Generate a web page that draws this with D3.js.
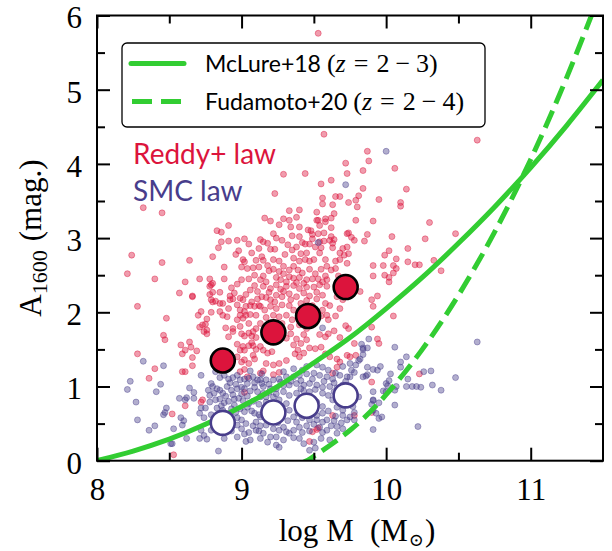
<!DOCTYPE html>
<html>
<head>
<meta charset="utf-8">
<script src="https://cdn.jsdelivr.net/npm/d3@7"></script>
<style>
  body { margin: 0; background: #fff; }
  .serif { font-family: "Liberation Serif", "DejaVu Serif", serif; }
  .sans { font-family: "Lato", "DejaVu Sans", sans-serif; }
</style>
</head>
<body>
<svg id="chart" width="612" height="551"></svg>
<script>
// Individual galaxies, [log M, A1600], Reddy+ attenuation law
const reddyGalaxies = [
  [9.29,3.86],[9.44,3.87],[9.23,3.60],[8.32,3.41],[8.45,3.34],[9.33,3.37],[9.40,3.38],[9.16,3.27],[9.20,3.23],[9.29,3.26],
  [9.33,3.24],[9.38,3.28],[8.91,3.17],[8.83,3.10],[8.86,3.08],[8.24,2.77],[8.45,2.67],[8.64,2.70],[8.80,2.75],[8.21,2.52],
  [9.53,5.76],[9.57,4.40],[10.63,4.32],[9.87,4.17],[9.88,4.04],[9.72,4.01],[9.73,3.87],[9.84,3.91],[10.06,3.94],[9.62,3.78],
  [9.55,3.73],[9.84,3.67],[10.14,3.66],[9.81,3.57],[9.79,3.51],[9.65,3.56],[9.68,3.56],[9.56,3.54],[9.56,3.46],[9.74,3.48],
  [9.95,3.52],[10.10,3.48],[10.10,3.43],[9.63,3.45],[9.80,3.42],[9.52,3.35],[9.64,3.33],[9.53,3.24],[9.58,3.26],[9.62,3.27],
  [9.79,3.24],[9.91,3.23],[10.30,3.21],[9.46,3.11],[9.53,3.06],[9.74,3.07],[9.76,3.01],[9.78,2.97],[9.87,3.05],[9.85,2.96],
  [10.04,3.02],[10.27,2.99],[10.48,3.06],[9.64,2.98],[9.49,2.99],[9.47,2.92],[9.54,2.95],[9.99,2.77],[10.02,2.83],[10.15,2.86],
  [10.07,2.72],[10.15,2.68],[10.20,2.64],[10.23,2.64],[10.33,2.70],[10.38,2.56],[9.91,2.63],[9.98,2.63],[10.05,2.63],
  [10.02,2.47],[10.02,2.41],[9.99,2.50],[9.91,2.49],[9.82,2.28],[9.94,2.22],[9.90,2.17],[9.91,2.08],[10.05,1.95],[9.90,1.80],
  [10.07,2.59],[10.05,2.53],[9.94,1.64],[9.68,1.66],[9.72,1.82],[9.74,1.78],[9.79,1.42],[9.73,1.42],[10.23,1.17],[9.90,1.06],
  [9.63,1.18],[9.55,1.53],[9.78,0.61],[9.90,0.65],[9.53,0.44],[9.49,0.39],[9.95,1.58],[9.78,1.58],[9.75,1.40],
  [8.86,2.95],[8.91,2.96],[8.97,2.97],[9.02,2.99],[9.05,2.92],[8.84,2.87],[8.98,2.83],[8.96,2.78],[9.01,2.71],[9.02,2.68],
  [9.00,2.61],[9.04,2.59],[9.08,2.60],[9.12,2.61],[8.88,2.61],[8.88,2.45],[9.00,2.44],[8.78,2.45],[8.80,2.39],[8.78,2.35],
  [8.61,2.41],[8.57,2.26],[8.66,2.21],[8.85,2.27],[8.93,2.33],[8.97,2.38],[9.06,2.30],[9.09,2.36],[8.95,2.26],[8.99,2.19],
  [8.94,2.18],[9.01,2.17],[8.79,2.17],[8.80,2.27],[8.82,2.15],[8.85,2.12],[8.87,2.12],[8.92,2.17],[8.91,2.05],[8.72,2.01],
  [8.79,2.00],[8.85,2.01],[8.87,1.96],[8.90,1.94],[9.03,2.08],[9.06,2.09],[9.09,2.08],[9.12,2.09],[8.99,2.03],[9.02,2.01],
  [8.99,1.96],[8.97,1.90],[9.01,1.92],[9.03,1.96],[9.06,1.97],[9.10,1.96],[8.76,1.91],[8.75,1.84],[8.71,1.80],[8.89,1.79],
  [8.94,1.78],[8.99,1.81],
  [9.26,3.18],[9.34,3.15],[9.40,3.15],[9.40,3.02],[9.35,3.03],[9.22,3.06],[9.24,3.00],[9.13,2.98],[9.15,2.95],[9.20,2.85],
  [9.23,2.85],[9.32,2.91],[9.35,2.84],[9.38,2.88],[9.42,2.94],[9.44,2.92],[9.14,2.75],[9.15,2.70],[9.22,2.71],[9.26,2.69],
  [9.29,2.62],[9.22,2.58],[9.19,2.56],[9.36,2.73],[9.40,2.69],[9.44,2.71],[9.36,2.62],[9.39,2.57],[9.42,2.53],
  [9.45,2.80],[9.54,2.80],[9.55,2.87],[9.61,2.97],[9.63,2.93],[9.63,2.87],[9.70,2.86],[9.73,2.88],[9.68,2.80],[9.71,2.77],
  [9.74,2.79],[9.47,2.69],[9.50,2.71],[9.47,2.58],[9.58,2.71],[9.65,2.69],[9.59,2.62],[9.62,2.57],[9.65,2.59],[9.68,2.71],
  [9.73,2.66],[9.48,3.10],[9.49,3.05],[9.57,3.07],[9.62,3.02],[9.73,3.06],[9.52,3.24],[9.58,3.22],[9.54,3.17],[9.62,3.14],
  [9.13,2.44],[9.15,2.49],[9.17,2.41],[9.24,2.47],[9.27,2.44],[9.31,2.41],[9.33,2.48],[9.36,2.46],[9.40,2.47],[9.45,2.44],
  [9.49,2.45],[9.53,2.45],[9.56,2.41],[9.59,2.44],[9.15,2.35],[9.20,2.32],[9.24,2.37],[9.27,2.31],[9.31,2.35],[9.36,2.36],
  [9.40,2.32],[9.45,2.34],[9.50,2.34],[9.54,2.37],[9.59,2.35],[9.14,2.21],[9.17,2.20],[9.20,2.17],[9.24,2.23],[9.28,2.21],
  [9.33,2.25],[9.38,2.21],[9.43,2.26],[9.47,2.22],[9.52,2.18],[9.56,2.23],[9.13,2.08],[9.16,2.03],[9.20,2.08],[9.24,2.05],
  [9.28,2.10],[9.33,2.09],[9.36,2.03],[9.31,1.96],[9.26,1.94],[9.22,1.96],[9.17,1.93],[9.56,2.03],[9.61,2.09],[9.59,1.96],
  [9.60,1.90],[9.58,2.12],[9.67,2.49],[9.70,2.17],[9.66,2.21],
  [8.74,1.74],[8.76,1.71],[8.91,1.67],[8.94,1.74],[9.00,1.71],[9.02,1.68],[9.05,1.72],[9.08,1.74],[9.07,1.68],[9.10,1.66],
  [8.58,1.56],[8.64,1.60],[8.65,1.53],[8.61,1.49],[8.69,1.48],[8.97,1.57],[9.01,1.54],[8.99,1.49],[9.02,1.49],[9.05,1.55],
  [9.08,1.55],[9.10,1.50],[9.07,1.59],[8.66,1.39],[8.66,1.28],[8.61,1.20],[8.97,1.40],[9.00,1.33],[9.02,1.36],[9.05,1.31],
  [9.09,1.37],[9.08,1.42],[9.02,1.23],[8.99,1.20],[9.04,1.13],[8.73,0.82],[8.72,0.79],[8.52,0.63],[9.02,0.92],
  [9.34,1.71],[9.38,1.64],[9.43,1.70],[9.45,1.63],[9.41,1.58],[9.36,1.56],[9.47,1.52],[9.39,1.49],[9.43,1.45],[9.37,1.44],
  [9.40,1.40],[9.13,1.54],[9.15,1.49],[9.18,1.45],[9.21,1.47],[9.26,1.63],[9.31,1.65],[9.54,1.70],[9.58,1.67],[9.58,1.44],
  [9.61,1.40],[9.66,1.37],[9.68,1.33],[9.66,1.26],[9.51,1.51],[9.17,1.31],[9.22,1.29],[9.26,1.31],[9.31,1.35],[9.13,1.18],
  [9.15,1.21],[9.22,1.16],[9.26,1.19],[9.63,0.61],[9.52,0.42],[9.47,0.26],[9.60,1.71],
  [8.28,2.08],[8.48,1.92],[8.46,1.69],[8.47,1.63],[8.59,1.44],[8.59,1.20],[8.28,1.44],[8.40,1.24],[8.36,1.11],[8.53,0.08],
  [8.61,0.74],[8.70,1.96],[8.73,1.83],[8.76,1.76],[8.71,2.45],[8.79,2.37],[8.78,2.24],[8.80,2.14],[8.92,2.22],[8.97,2.10],
  [9.03,2.24],[8.40,2.45],[8.66,2.22],
  [9.05,2.45],[9.09,2.50],[9.11,2.28],[9.07,2.14],[9.11,2.18],[9.19,2.27],[9.23,2.14],[9.29,2.28],[9.34,2.17],[9.41,2.12],
  [9.45,2.16],[9.49,2.09],[9.52,2.27],[9.43,2.39],[9.38,2.40],[9.29,2.52],[9.33,2.57],[9.26,2.55],[9.18,2.63],[9.10,2.70],
  [9.07,2.80],[9.12,2.86],[9.18,2.93],[9.28,2.97],[9.30,2.78],[9.41,2.79],[9.51,2.52],[9.55,2.58],[9.58,2.49],[9.51,2.88],
  [9.57,2.96],[9.28,1.85],[9.35,1.90],[9.40,1.83],[9.45,1.78],[9.20,1.80],[9.13,1.85],[9.05,1.85],[9.50,1.85],[9.55,1.95],
  [9.65,1.95],[9.68,2.05],[9.64,1.75],[9.34,1.80],[9.10,1.78]
];

// Individual galaxies, [log M, A1600], SMC attenuation law
const smcGalaxies = [
  [10.00,4.17],[9.72,3.72],[9.53,2.94],[9.56,1.79],
  [10.63,1.60],[10.06,1.53],[10.14,1.40],[10.10,1.33],[10.10,1.26],[10.26,1.20],[10.31,1.21],[10.48,1.12],[10.32,1.02],[10.38,0.95],
  [10.14,1.00],[10.18,1.00],[10.21,1.00],[10.24,0.99],[10.03,1.17],[10.00,1.04],[10.01,1.01],[10.06,0.75],[9.97,0.59],[9.91,0.42],
  [10.22,0.46],[9.91,0.93],[9.91,0.82],[9.87,1.16],[9.91,1.23],[9.96,1.27],[9.94,1.22],[9.82,1.37],[9.84,1.43],[9.84,1.52],
  [9.87,1.52],[9.83,1.57],[9.88,1.64],[9.84,1.50],[9.81,1.35],[9.79,1.29],[9.75,1.31],[9.76,1.22],[9.78,1.19],[9.75,1.13],
  [9.87,1.26],[10.02,1.08],[9.86,1.14],[9.84,1.13],[10.15,1.10],[9.98,0.94],[10.00,0.93],[10.06,0.95],[10.07,1.00],[9.81,0.86],
  [9.91,0.81],[9.90,0.76],[9.95,0.78],[9.91,0.68],[9.93,0.64],[9.95,0.57],[9.78,0.65],[9.75,0.59],[9.78,0.55],[9.77,0.73],
  [9.17,1.09],[9.22,1.09],[9.26,1.10],[9.31,1.13],[9.36,1.13],[9.40,1.15],[9.45,1.17],[9.50,1.18],[9.54,1.15],[9.59,1.13],
  [9.63,1.10],[9.68,1.15],[9.73,1.13],[9.15,1.00],[9.20,0.97],[9.24,0.97],[9.29,1.01],[9.33,1.02],[9.38,1.04],[9.43,1.02],
  [9.47,1.04],[9.52,1.02],[9.56,0.99],[9.61,1.00],[9.66,0.98],[9.70,1.02],[9.13,0.86],[9.33,0.88],[9.38,0.91],[9.43,0.94],
  [9.47,0.93],[9.56,0.91],[9.60,0.88],[9.73,0.86],[9.31,0.77],[9.33,0.68],[9.36,0.59],[9.32,0.54],[9.29,0.45],[9.26,0.41],
  [9.22,0.43],[9.17,0.48],[9.15,0.37],[9.20,0.32],[9.24,0.32],[9.56,0.73],[9.56,0.64],[9.59,0.55],[9.62,0.47],[9.66,0.46],
  [9.69,0.51],[9.73,0.55],[9.70,0.61],[9.36,0.41],[9.40,0.45],[9.45,0.47],[9.50,0.49],[9.54,0.45],[9.59,0.41],[9.26,0.18],
  [9.36,0.31],[9.43,0.23],[9.50,0.25],[9.66,0.37],[9.61,0.28],[9.13,1.09],[9.17,0.86],[9.22,0.86],[9.26,0.82],[9.68,0.77],
  [9.70,0.68],[9.13,0.59],[9.45,1.27],[9.52,1.29],[9.56,1.26],[9.70,1.27],[9.36,1.24],
  [8.79,1.04],[8.85,1.12],[8.88,1.15],[8.91,1.10],[8.94,1.12],[8.97,1.15],[8.99,1.09],[9.02,1.10],[9.05,1.11],[9.08,1.13],
  [9.11,1.09],[8.64,0.98],[8.67,0.92],[8.57,0.84],[8.61,0.82],[8.67,0.84],[8.72,0.71],[8.71,0.64],[8.75,0.71],[8.74,0.58],
  [8.77,0.95],[8.78,0.88],[8.81,0.91],[8.85,0.95],[8.87,0.91],[8.90,1.00],[8.93,0.95],[8.97,0.97],[9.00,0.99],[9.02,0.97],
  [9.06,0.94],[9.09,0.99],[9.11,0.93],[8.78,0.79],[8.82,0.82],[8.85,0.83],[8.88,0.78],[8.91,0.80],[8.95,0.83],[8.98,0.84],
  [9.01,0.81],[9.05,0.77],[9.08,0.80],[8.83,0.71],[8.87,0.68],[8.95,0.75],[8.99,0.70],[9.02,0.66],[9.07,0.67],[9.09,0.64],
  [8.58,0.58],[8.60,0.54],[8.59,0.48],[8.53,0.43],[8.72,0.41],[8.74,0.34],[8.76,0.29],[8.97,0.58],[9.00,0.55],[9.03,0.50],
  [9.08,0.47],[9.05,0.38],[9.10,0.41],[9.06,0.28],[9.02,0.36],[9.00,0.43],[8.97,0.48],[8.52,0.23],[8.84,0.13],
  [8.32,1.34],[8.46,1.28],[8.21,0.96],[8.23,1.07],[8.27,0.79],[8.44,1.03],[8.41,0.93],[8.28,0.55],[8.36,0.41],[8.40,0.47],
  [8.46,0.62],[8.47,0.65],[8.48,0.71],[8.51,0.23],[8.62,0.85],[9.03,0.26],[9.13,0.30],[9.24,0.21],[9.31,0.39],[8.71,0.30],
  [8.62,0.30],[9.51,0.17],[9.47,0.14],
  [8.80,1.00],[8.83,0.97],[8.92,1.05],[8.96,1.03],[9.04,1.04],[9.09,1.05],[9.14,1.04],[9.19,1.03],[9.27,1.06],[9.34,1.07],
  [9.41,1.08],[9.49,1.10],[9.57,1.07],[9.64,1.05],[9.72,1.07],[8.89,0.87],[8.94,0.89],[9.00,0.90],[9.04,0.87],[9.15,0.91],
  [9.19,0.92],[9.24,0.90],[9.29,0.93],[9.41,0.97],[9.51,0.96],[9.64,0.93],[9.68,0.90],[8.86,0.74],[8.93,0.70],[9.04,0.72],
  [9.12,0.76],[9.17,0.79],[9.21,0.74],[9.27,0.70],[9.39,0.78],[9.43,0.80],[9.52,0.79],[9.63,0.82],[9.66,0.72],[8.79,0.62],
  [8.84,0.60],[8.92,0.63],[8.96,0.65],[9.12,0.62],[9.18,0.63],[9.23,0.60],[9.28,0.62],[9.39,0.64],[9.42,0.58],[9.52,0.61],
  [9.60,0.67],[9.65,0.60],[8.82,0.52],[8.93,0.53],[9.10,0.52],[9.13,0.47],[9.19,0.55],[9.25,0.51],[9.38,0.52],[9.47,0.55],
  [9.52,0.55],[9.56,0.52],[9.64,0.54],[8.79,0.41],[8.86,0.43],[8.93,0.40],[9.12,0.40],[9.33,0.37],[9.42,0.38],[9.47,0.40],
  [9.56,0.38],[9.70,0.43],[8.88,0.30],[8.97,0.32],[9.18,0.25],[9.29,0.28],[9.40,0.30],[9.55,0.30],
  [8.72,1.15],[8.82,1.20],[9.06,1.21],[9.14,1.17],[9.29,1.20],[9.42,1.22],[9.60,1.22],[9.65,1.18]
];

// Binned medians
const reddyMedians = [[8.87,1.35],[9.22,1.73],[9.46,1.95],[9.72,2.34]];
const smcMedians   = [[8.87,0.51],[9.22,0.65],[9.45,0.74],[9.72,0.88]];

// Literature relations, sampled [log M, A1600]
const mcLureCurve = [
  [8.00,0.00],[8.25,0.13],[8.50,0.29],[8.75,0.49],[9.00,0.73],[9.25,1.00],[9.50,1.32],[9.75,1.66],
  [10.00,2.05],[10.25,2.47],[10.50,2.93],[10.75,3.42],[11.00,3.95],[11.25,4.52],[11.50,5.13]
];
const fudamotoCurve = [
  [9.40,-0.05],[9.45,0.00],[9.50,0.06],[9.75,0.41],[10.00,0.89],[10.25,1.50],[10.50,2.23],
  [10.75,3.08],[11.00,4.06],[11.25,5.17],[11.50,6.40]
];

const xMajorTicks = [8, 9, 10, 11];
const xMinorTicks = [8.5, 9.5, 10.5];
const yMajorTicks = [0, 1, 2, 3, 4, 5, 6];
const yMinorTicks = [0.5, 1.5, 2.5, 3.5, 4.5, 5.5];

const colors = { reddy: "#dc143c", smc: "#483d8b", line: "#32cd32" };

const svg = d3.select("#chart");
const plot = { left: 97, right: 603, top: 15.5, bottom: 460.7 };

const x = d3.scaleLinear().domain([8, 11.5]).range([plot.left, plot.right]);
const y = d3.scaleLinear().domain([0, 6]).range([plot.bottom, plot.top]);

svg.append("defs").append("clipPath").attr("id", "plotClip")
  .append("rect")
  .attr("x", plot.left).attr("y", plot.top)
  .attr("width", plot.right - plot.left).attr("height", plot.bottom - plot.top);

const inner = svg.append("g").attr("clip-path", "url(#plotClip)");

// scattered galaxies
function drawGalaxies(data, color) {
  inner.append("g").selectAll("circle").data(data).join("circle")
    .attr("cx", d => x(d[0])).attr("cy", d => y(d[1]))
    .attr("r", 3)
    .attr("fill", color).attr("fill-opacity", 0.42)
    .attr("stroke", color).attr("stroke-opacity", 0.42).attr("stroke-width", 1);
}
drawGalaxies(reddyGalaxies, colors.reddy);
drawGalaxies(smcGalaxies, colors.smc);

// relations
const line = d3.line().x(d => x(d[0])).y(d => y(d[1])).curve(d3.curveNatural);
inner.append("path").datum(mcLureCurve).attr("d", line)
  .attr("fill", "none").attr("stroke", colors.line).attr("stroke-width", 5);
inner.append("path").datum(fudamotoCurve).attr("d", line)
  .attr("fill", "none").attr("stroke", colors.line).attr("stroke-width", 5)
  .attr("stroke-dasharray", "18.5,8");

// medians
inner.append("g").selectAll("circle").data(reddyMedians).join("circle")
  .attr("cx", d => x(d[0])).attr("cy", d => y(d[1])).attr("r", 12)
  .attr("fill", colors.reddy).attr("stroke", "#000").attr("stroke-width", 2.6);
inner.append("g").selectAll("circle").data(smcMedians).join("circle")
  .attr("cx", d => x(d[0])).attr("cy", d => y(d[1])).attr("r", 12)
  .attr("fill", "#fff").attr("stroke", colors.smc).attr("stroke-width", 2.6);

// axes with inward ticks on all four sides
function styleAxis(g) {
  g.select(".domain").remove();
  g.selectAll(".tick line").attr("stroke", "#000").attr("stroke-width", 2);
  g.selectAll(".tick text").attr("class", "serif").attr("font-size", 31).attr("fill", "#000");
}
const fmt = d3.format("d");
svg.append("g").attr("transform", `translate(0,${plot.bottom})`)
  .call(d3.axisBottom(x).tickValues(xMajorTicks).tickSizeInner(-13).tickSizeOuter(0).tickPadding(17).tickFormat(fmt))
  .call(styleAxis);
svg.append("g").attr("transform", `translate(0,${plot.bottom})`)
  .call(d3.axisBottom(x).tickValues(xMinorTicks).tickSizeInner(-8).tickSizeOuter(0).tickFormat(""))
  .call(styleAxis);
svg.append("g").attr("transform", `translate(0,${plot.top})`)
  .call(d3.axisTop(x).tickValues(xMajorTicks).tickSizeInner(-13).tickSizeOuter(0).tickFormat(""))
  .call(styleAxis);
svg.append("g").attr("transform", `translate(0,${plot.top})`)
  .call(d3.axisTop(x).tickValues(xMinorTicks).tickSizeInner(-8).tickSizeOuter(0).tickFormat(""))
  .call(styleAxis);
svg.append("g").attr("transform", `translate(${plot.left},0)`)
  .call(d3.axisLeft(y).tickValues(yMajorTicks).tickSizeInner(-13).tickSizeOuter(0).tickPadding(15).tickFormat(fmt))
  .call(styleAxis)
  .call(g => g.selectAll(".tick text").attr("dy", "0.4em"));
svg.append("g").attr("transform", `translate(${plot.left},0)`)
  .call(d3.axisLeft(y).tickValues(yMinorTicks).tickSizeInner(-8).tickSizeOuter(0).tickFormat(""))
  .call(styleAxis);
svg.append("g").attr("transform", `translate(${plot.right},0)`)
  .call(d3.axisRight(y).tickValues(yMajorTicks).tickSizeInner(-13).tickSizeOuter(0).tickFormat(""))
  .call(styleAxis);
svg.append("g").attr("transform", `translate(${plot.right},0)`)
  .call(d3.axisRight(y).tickValues(yMinorTicks).tickSizeInner(-8).tickSizeOuter(0).tickFormat(""))
  .call(styleAxis);

svg.append("rect")
  .attr("x", plot.left).attr("y", plot.top)
  .attr("width", plot.right - plot.left).attr("height", plot.bottom - plot.top)
  .attr("fill", "none").attr("stroke", "#000").attr("stroke-width", 2);

// axis titles
const xt = svg.append("text").attr("class", "serif").attr("font-size", 31)
  .attr("x", 357).attr("y", 541).attr("text-anchor", "middle");
xt.append("tspan").text("log");
xt.append("tspan").attr("dx", 8).text("M");
xt.append("tspan").attr("dx", 16).text("(M");
xt.append("tspan").attr("font-size", 18).attr("dy", 5).attr("dx", 1).text("\u2299");
xt.append("tspan").attr("dy", -5).attr("dx", 1).text(")");

const yt = svg.append("text").attr("class", "serif").attr("font-size", 31)
  .attr("text-anchor", "middle")
  .attr("transform", `translate(41,${(plot.top + plot.bottom) / 2}) rotate(-90)`);
yt.append("tspan").text("A");
yt.append("tspan").attr("font-size", 22).attr("dy", 6).text("1600");
yt.append("tspan").attr("dy", -6).attr("dx", 9).text("(mag.)");

// legend
const lg = svg.append("g");
lg.append("rect").attr("x", 122).attr("y", 43).attr("width", 363).attr("height", 84).attr("rx", 5)
  .attr("fill", "#fff").attr("stroke", "#000").attr("stroke-width", 1.3);
lg.append("line").attr("x1", 131).attr("x2", 184).attr("y1", 63.5).attr("y2", 63.5)
  .attr("stroke", colors.line).attr("stroke-width", 5).attr("stroke-linecap", "round");
lg.append("line").attr("x1", 132).attr("x2", 184).attr("y1", 101.5).attr("y2", 101.5)
  .attr("stroke", colors.line).attr("stroke-width", 5).attr("stroke-dasharray", "20,9");

const legendEntries = [
  { name: "McLure+18", upper: "3", y: 72 },
  { name: "Fudamoto+20", upper: "4", y: 110 }
];
legendEntries.forEach(e => {
  const t = lg.append("text").attr("x", 205).attr("y", e.y).attr("font-size", 23);
  t.append("tspan").attr("class", "sans").text(e.name);
  const m = { "class": "serif", "font-size": 26 };
  const part = (s, dx, italic) => {
    const ts = t.append("tspan").attr("class", "serif").attr("font-size", 26).attr("dx", dx).text(s);
    if (italic) ts.attr("font-style", "italic");
  };
  part("(", 6, false);
  part("z", 0, true);
  part("=", 8, false);
  part("2", 8, false);
  part("\u2212", 6, false);
  part(e.upper, 6, false);
  part(")", 0, false);
});

// law labels
svg.append("text").attr("class", "sans").attr("x", 133).attr("y", 164).attr("font-size", 28)
  .attr("fill", colors.reddy).text("Reddy+ law");
svg.append("text").attr("class", "sans").attr("x", 133).attr("y", 201).attr("font-size", 28)
  .attr("fill", colors.smc).text("SMC law");
</script>
</body>
</html>
